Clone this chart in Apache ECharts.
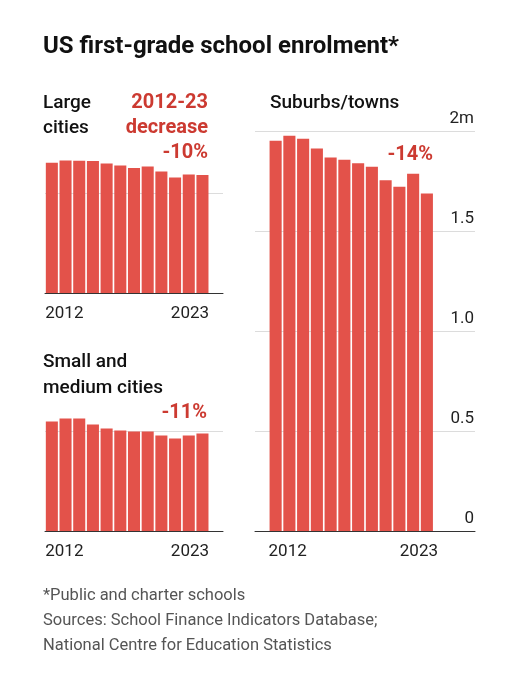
<!DOCTYPE html>
<html>
<head>
<meta charset="utf-8">
<script src="https://cdn.jsdelivr.net/npm/echarts@6/dist/echarts.min.js"></script>
<style>
  html, body { margin: 0; padding: 0; background: #fff; }
  #chart { width: 518px; height: 680px; }
</style>
</head>
<body>
<div id="chart"></div>
<script>
// data, millions of first-grade pupils
var years = ['2012', '2013', '2014', '2015', '2016', '2017', '2018', '2019', '2020', '2021', '2022', '2023'];
var largeCities = [0.651, 0.662, 0.661, 0.660, 0.647, 0.638, 0.625, 0.633, 0.607, 0.577, 0.592, 0.590];
var smallMediumCities = [0.548, 0.563, 0.563, 0.532, 0.512, 0.503, 0.498, 0.498, 0.478, 0.463, 0.478, 0.488];
var suburbsTowns = [1.951, 1.976, 1.961, 1.913, 1.868, 1.856, 1.839, 1.821, 1.754, 1.721, 1.786, 1.688];
var yTicks = [0, 0.5, 1.0, 1.5, 2];
var yTickLabels = ['0', '0.5', '1.0', '1.5', '2m'];

var BAR = '#e3524a';
var RED = '#cc3a31';
var FONT = 'Roboto, "Noto Sans", sans-serif';

var chart = echarts.init(document.getElementById('chart'));

function pairs(vals) {
  return years.map(function (y, i) { return [y, vals[i]]; });
}

// x axis, padded with blank slots so the bars sit where they do in the print
function xAxisFor(gridIndex, cats, padL, padR) {
  return {
    type: 'category',
    gridIndex: gridIndex,
    data: cats,
    axisTick: { show: false },
    axisLine: { lineStyle: { color: '#333', width: 1 } },
    axisLabel: {
      interval: function (idx, val) { return val === years[0] || val === years[years.length - 1]; },
      formatter: function (val) {
        return val === years[0] ? '{a|' + val + '}' : '{b|' + val + '}';
      },
      margin: 12,
      color: '#222',
      fontSize: 17,
      fontFamily: FONT,
      rich: {
        a: { fontSize: 17, fontFamily: FONT, color: '#222', padding: [0, 0, 0, padL] },
        b: { fontSize: 17, fontFamily: FONT, color: '#222', padding: [0, padR, 0, 0] }
      }
    }
  };
}

function sideYAxis(gridIndex) {
  return {
    type: 'value',
    gridIndex: gridIndex,
    min: 0,
    max: 0.7,
    interval: 0.5,
    axisLabel: { show: false },
    axisLine: { show: false },
    axisTick: { show: false },
    splitLine: { showMaxLine: false, lineStyle: { color: '#dcdcdc' } }
  };
}

function bars(xi, vals) {
  return {
    type: 'bar',
    xAxisIndex: xi,
    yAxisIndex: xi,
    data: pairs(vals),
    barCategoryGap: '12%',
    itemStyle: { color: BAR },
    silent: true
  };
}

function txt(x, base, s, size, opts) {
  opts = opts || {};
  return {
    type: 'text',
    x: x,
    y: base + size * 0.24,
    style: {
      text: s,
      fill: opts.fill || '#111',
      font: (opts.weight || 'normal') + ' ' + size + 'px ' + FONT,
      textAlign: opts.align || 'left',
      textVerticalAlign: 'bottom'
    }
  };
}

var leftCats = years.concat(['']);
var rightCats = [''].concat(years, [' ', '  ', '   ']);

var option = {
  animation: false,
  grid: [
    { left: 45, top: 153, width: 178, height: 140 },
    { left: 45, top: 391, width: 178, height: 140 },
    { left: 255, top: 131, width: 220, height: 400 }
  ],
  xAxis: [
    xAxisFor(0, leftCats, 25, 25),
    xAxisFor(1, leftCats, 25, 25),
    xAxisFor(2, rightCats, 24, 16)
  ],
  yAxis: [
    sideYAxis(0),
    sideYAxis(1),
    {
      type: 'value',
      gridIndex: 2,
      position: 'right',
      min: yTicks[0],
      max: yTicks[yTicks.length - 1],
      interval: 0.5,
      axisLine: { show: false },
      axisTick: { show: false },
      splitLine: { lineStyle: { color: '#dcdcdc' } },
      axisLabel: {
        inside: true,
        margin: 1,
        verticalAlign: 'bottom',
        padding: [0, 0, 4, 0],
        color: '#222',
        fontSize: 17,
        fontFamily: FONT,
        formatter: function (v) {
          var i = yTicks.indexOf(v);
          return i >= 0 ? yTickLabels[i] : '';
        }
      }
    }
  ],
  series: [
    bars(0, largeCities),
    bars(1, smallMediumCities),
    bars(2, suburbsTowns)
  ],
  graphic: [
    txt(43, 53, 'US first-grade school enrolment*', 24, { weight: 'bold' }),
    txt(43, 108, 'Large', 19, { weight: '500' }),
    txt(43, 133, 'cities', 19, { weight: '500' }),
    txt(208, 108, '2012-23', 20, { weight: 'bold', fill: RED, align: 'right' }),
    txt(208, 133, 'decrease', 20, { weight: 'bold', fill: RED, align: 'right' }),
    txt(208, 158, '-10%', 20, { weight: 'bold', fill: RED, align: 'right' }),
    txt(270, 108, 'Suburbs/towns', 19, { weight: '500' }),
    txt(433, 160, '-14%', 20, { weight: 'bold', fill: RED, align: 'right' }),
    txt(43, 367, 'Small and', 19, { weight: '500' }),
    txt(43, 393, 'medium cities', 19, { weight: '500' }),
    txt(207, 418, '-11%', 20, { weight: 'bold', fill: RED, align: 'right' }),
    txt(43, 600, '*Public and charter schools', 16.5, { fill: '#555' }),
    txt(43, 625, 'Sources: School Finance Indicators Database;', 16.5, { fill: '#555' }),
    txt(43, 650, 'National Centre for Education Statistics', 16.5, { fill: '#555' })
  ]
};

chart.setOption(option);
</script>
</body>
</html>
